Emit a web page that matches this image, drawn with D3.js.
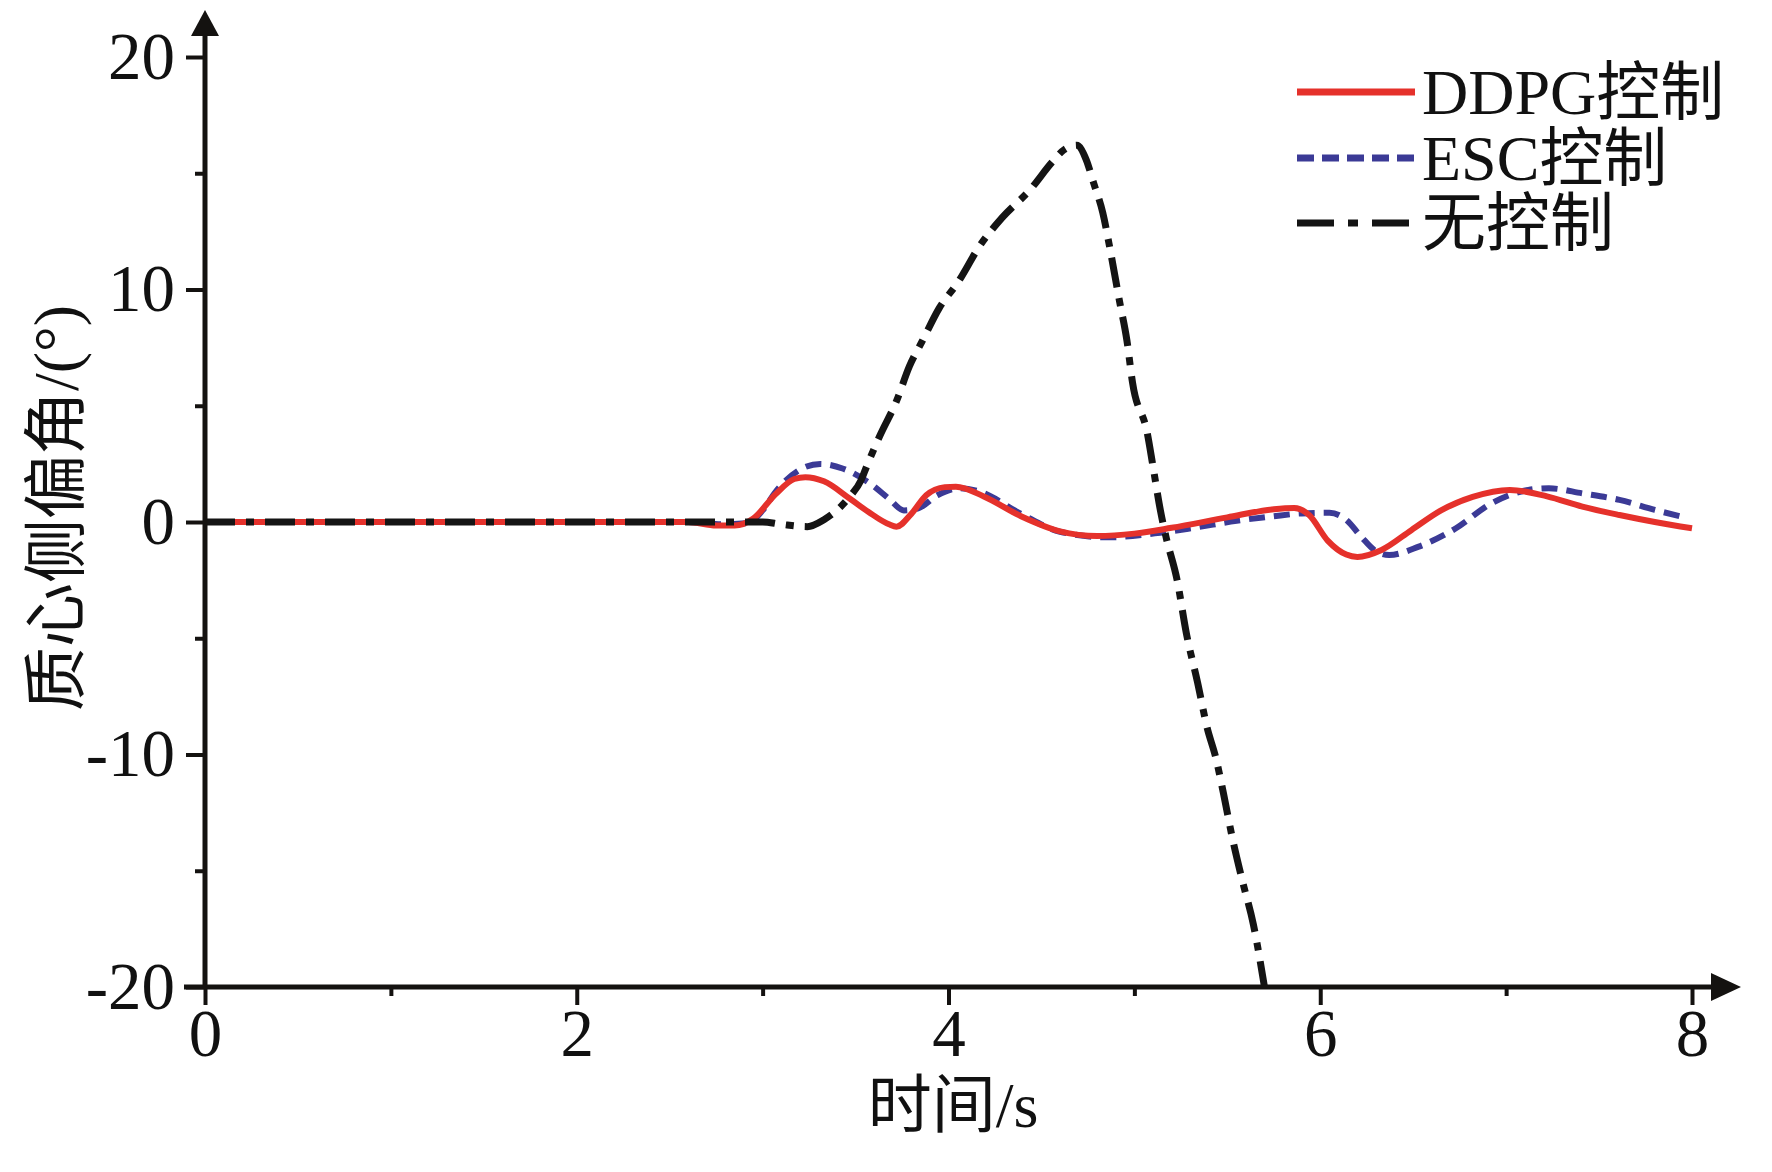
<!DOCTYPE html>
<html>
<head>
<meta charset="utf-8">
<script src="https://cdn.jsdelivr.net/npm/d3@7"></script>
<style>
  html, body { margin: 0; padding: 0; background: #fff; }
  svg { display: block; }
</style>
</head>
<body>
<svg id="chart" width="1772" height="1172"></svg>
<script>
// ---- data ----
const ddpgT = [0, 2.6, 2.75, 2.85, 2.95, 3.07, 3.17, 3.23, 3.33, 3.47, 3.57, 3.68, 3.72, 3.80, 3.88, 3.98, 4.04, 4.19, 4.39, 4.60, 4.80, 5.0, 5.2, 5.5, 5.75, 5.86, 5.94, 6.04, 6.14, 6.20, 6.33, 6.49, 6.65, 6.82, 7.02, 7.22, 7.41, 7.61, 7.80, 8.0];
const ddpgY = [0, 0, -0.15, -0.15, 0.15, 1.2, 1.85, 1.93, 1.75, 1.0, 0.43, -0.1, -0.2, 0.35, 1.15, 1.5, 1.52, 1.1, 0.25, -0.4, -0.6, -0.5, -0.25, 0.2, 0.55, 0.6, 0.3, -0.8, -1.4, -1.5, -1.2, -0.35, 0.5, 1.08, 1.38, 1.1, 0.66, 0.3, 0.0, -0.27];

const escT = [0, 2.6, 2.8, 2.92, 3.0, 3.07, 3.19, 3.31, 3.43, 3.57, 3.68, 3.76, 3.84, 3.94, 4.06, 4.17, 4.39, 4.60, 4.86, 5.11, 5.32, 5.55, 5.75, 5.90, 6.05, 6.14, 6.22, 6.29, 6.37, 6.53, 6.73, 6.92, 7.12, 7.23, 7.41, 7.61, 7.80, 7.95];
const escY = [0, 0, -0.1, -0.05, 0.5, 1.3, 2.2, 2.5, 2.3, 1.7, 1.0, 0.5, 0.6, 1.15, 1.45, 1.3, 0.35, -0.42, -0.66, -0.49, -0.25, 0.05, 0.25, 0.37, 0.4, 0.09, -0.63, -1.2, -1.42, -1.06, -0.27, 0.8, 1.38, 1.45, 1.23, 0.95, 0.52, 0.22];

const noneT = [0, 3.0, 3.1, 3.24, 3.33, 3.42, 3.47, 3.53, 3.56, 3.63, 3.72, 3.79, 3.86, 3.95, 4.05, 4.17, 4.29, 4.44, 4.56, 4.62, 4.69, 4.74, 4.78, 4.83, 4.87, 4.92, 4.96, 4.99, 5.07, 5.10, 5.14, 5.17, 5.23, 5.28, 5.34, 5.39, 5.44, 5.48, 5.53, 5.58, 5.64, 5.70];
const noneY = [0, 0, -0.1, -0.2, 0.1, 0.66, 1.1, 1.8, 2.4, 3.7, 5.2, 6.7, 7.8, 9.2, 10.3, 11.9, 13.1, 14.3, 15.5, 16.0, 16.2, 15.6, 14.6, 13.3, 11.7, 9.5, 7.8, 6.0, 3.8, 2.4, 0.5, -0.63, -2.5, -4.8, -6.9, -8.8, -10.2, -11.7, -13.7, -15.4, -17.3, -20.0];

const xMajorTicks = [0, 2, 4, 6, 8];
const xMinorTicks = [1, 3, 5, 7];
const yMajorTicks = [-20, -10, 0, 10, 20];
const yMinorTicks = [-15, -5, 5, 15];
const seriesNames = ["DDPG控制", "ESC控制", "无控制"];
const xTitle = "时间/s";
const yTitle = "质心侧偏角/(°)";

// ---- drawing ----
const svg = d3.select("#chart");
const serif = "'Liberation Serif', 'Times New Roman', 'Noto Sans CJK SC', serif";

const x = d3.scaleLinear().domain([0, 8]).range([205, 1692]);
const y = d3.scaleLinear().domain([-20, 20]).range([987, 57]);

const colors = ["#e5312b", "#3b3a96", "#141414"];
const dashes = [null, "16,9", "30,11,8,11"];
const widths = [6, 6, 7];

const line = d3.line().x(d => x(d[0])).y(d => y(d[1])).curve(d3.curveMonotoneX);
const zip = (a, b) => a.map((v, i) => [v, b[i]]);
const series = [zip(ddpgT, ddpgY), zip(escT, escY), zip(noneT, noneY)];

// draw order: ESC, DDPG, none
[1, 0, 2].forEach(i => {
  svg.append("path")
    .datum(series[i])
    .attr("d", line)
    .attr("fill", "none")
    .attr("stroke", colors[i])
    .attr("stroke-width", widths[i])
    .attr("stroke-dasharray", dashes[i])
    .attr("stroke-linejoin", "round");
});

// ---- axes ----
const axisColor = "#141210";
const fmt = d => String(d);
const gY = svg.append("g").attr("transform", `translate(${x(0)},0)`)
  .call(d3.axisLeft(y).tickValues(yMajorTicks).tickSize(19).tickPadding(11).tickFormat(fmt));
const gYm = svg.append("g").attr("transform", `translate(${x(0)},0)`)
  .call(d3.axisLeft(y).tickValues(yMinorTicks).tickSize(10).tickFormat(""));
const gX = svg.append("g").attr("transform", `translate(0,${y(-20)})`)
  .call(d3.axisBottom(x).tickValues(xMajorTicks).tickSize(18).tickPadding(3).tickFormat(fmt));
const gXm = svg.append("g").attr("transform", `translate(0,${y(-20)})`)
  .call(d3.axisBottom(x).tickValues(xMinorTicks).tickSize(9).tickFormat(""));

[gY, gYm, gX, gXm].forEach(g => {
  g.select(".domain").remove();
  g.selectAll(".tick line").attr("stroke", axisColor).attr("stroke-width", 4);
  g.selectAll(".tick text").attr("fill", "#111").style("font-family", serif).style("font-size", "67px");
});
gY.selectAll(".tick text").attr("dy", "0.32em");
gX.selectAll(".tick text").attr("dy", "0.71em");

// axis lines with arrows
svg.append("line").attr("x1", x(0)).attr("x2", x(0)).attr("y1", y(-20) + 2).attr("y2", 30)
  .attr("stroke", axisColor).attr("stroke-width", 5);
svg.append("line").attr("x1", 184).attr("x2", 1715).attr("y1", y(-20)).attr("y2", y(-20))
  .attr("stroke", axisColor).attr("stroke-width", 5);
svg.append("path").attr("d", `M${x(0)},10 L${x(0) - 14},36 L${x(0) + 14},36 Z`).attr("fill", axisColor);
svg.append("path").attr("d", `M1741,${y(-20)} L1711,${y(-20) - 14} L1711,${y(-20) + 14} Z`).attr("fill", axisColor);

// axis titles
svg.append("text").attr("x", 953).attr("y", 1105)
  .attr("text-anchor", "middle").attr("dominant-baseline", "central")
  .style("font-family", serif).style("font-size", "64px").attr("fill", "#111")
  .text(xTitle);
svg.append("text").attr("transform", "translate(56,508) rotate(-90)")
  .attr("text-anchor", "middle").attr("dominant-baseline", "central")
  .style("font-family", serif).style("font-size", "64px").attr("fill", "#111")
  .text(yTitle);

// legend
const legDash = [null, "17,8", "37,14,10,14"];
const legY = [92, 158, 223];
seriesNames.forEach((name, i) => {
  svg.append("line").attr("x1", 1297).attr("x2", 1415).attr("y1", legY[i]).attr("y2", legY[i])
    .attr("stroke", colors[i]).attr("stroke-width", 7)
    .attr("stroke-dasharray", legDash[i]);
  svg.append("text").attr("x", 1422).attr("y", legY[i])
    .attr("dominant-baseline", "central")
    .style("font-family", serif).style("font-size", "64px").attr("fill", "#111")
    .text(name);
});
</script>
</body>
</html>
